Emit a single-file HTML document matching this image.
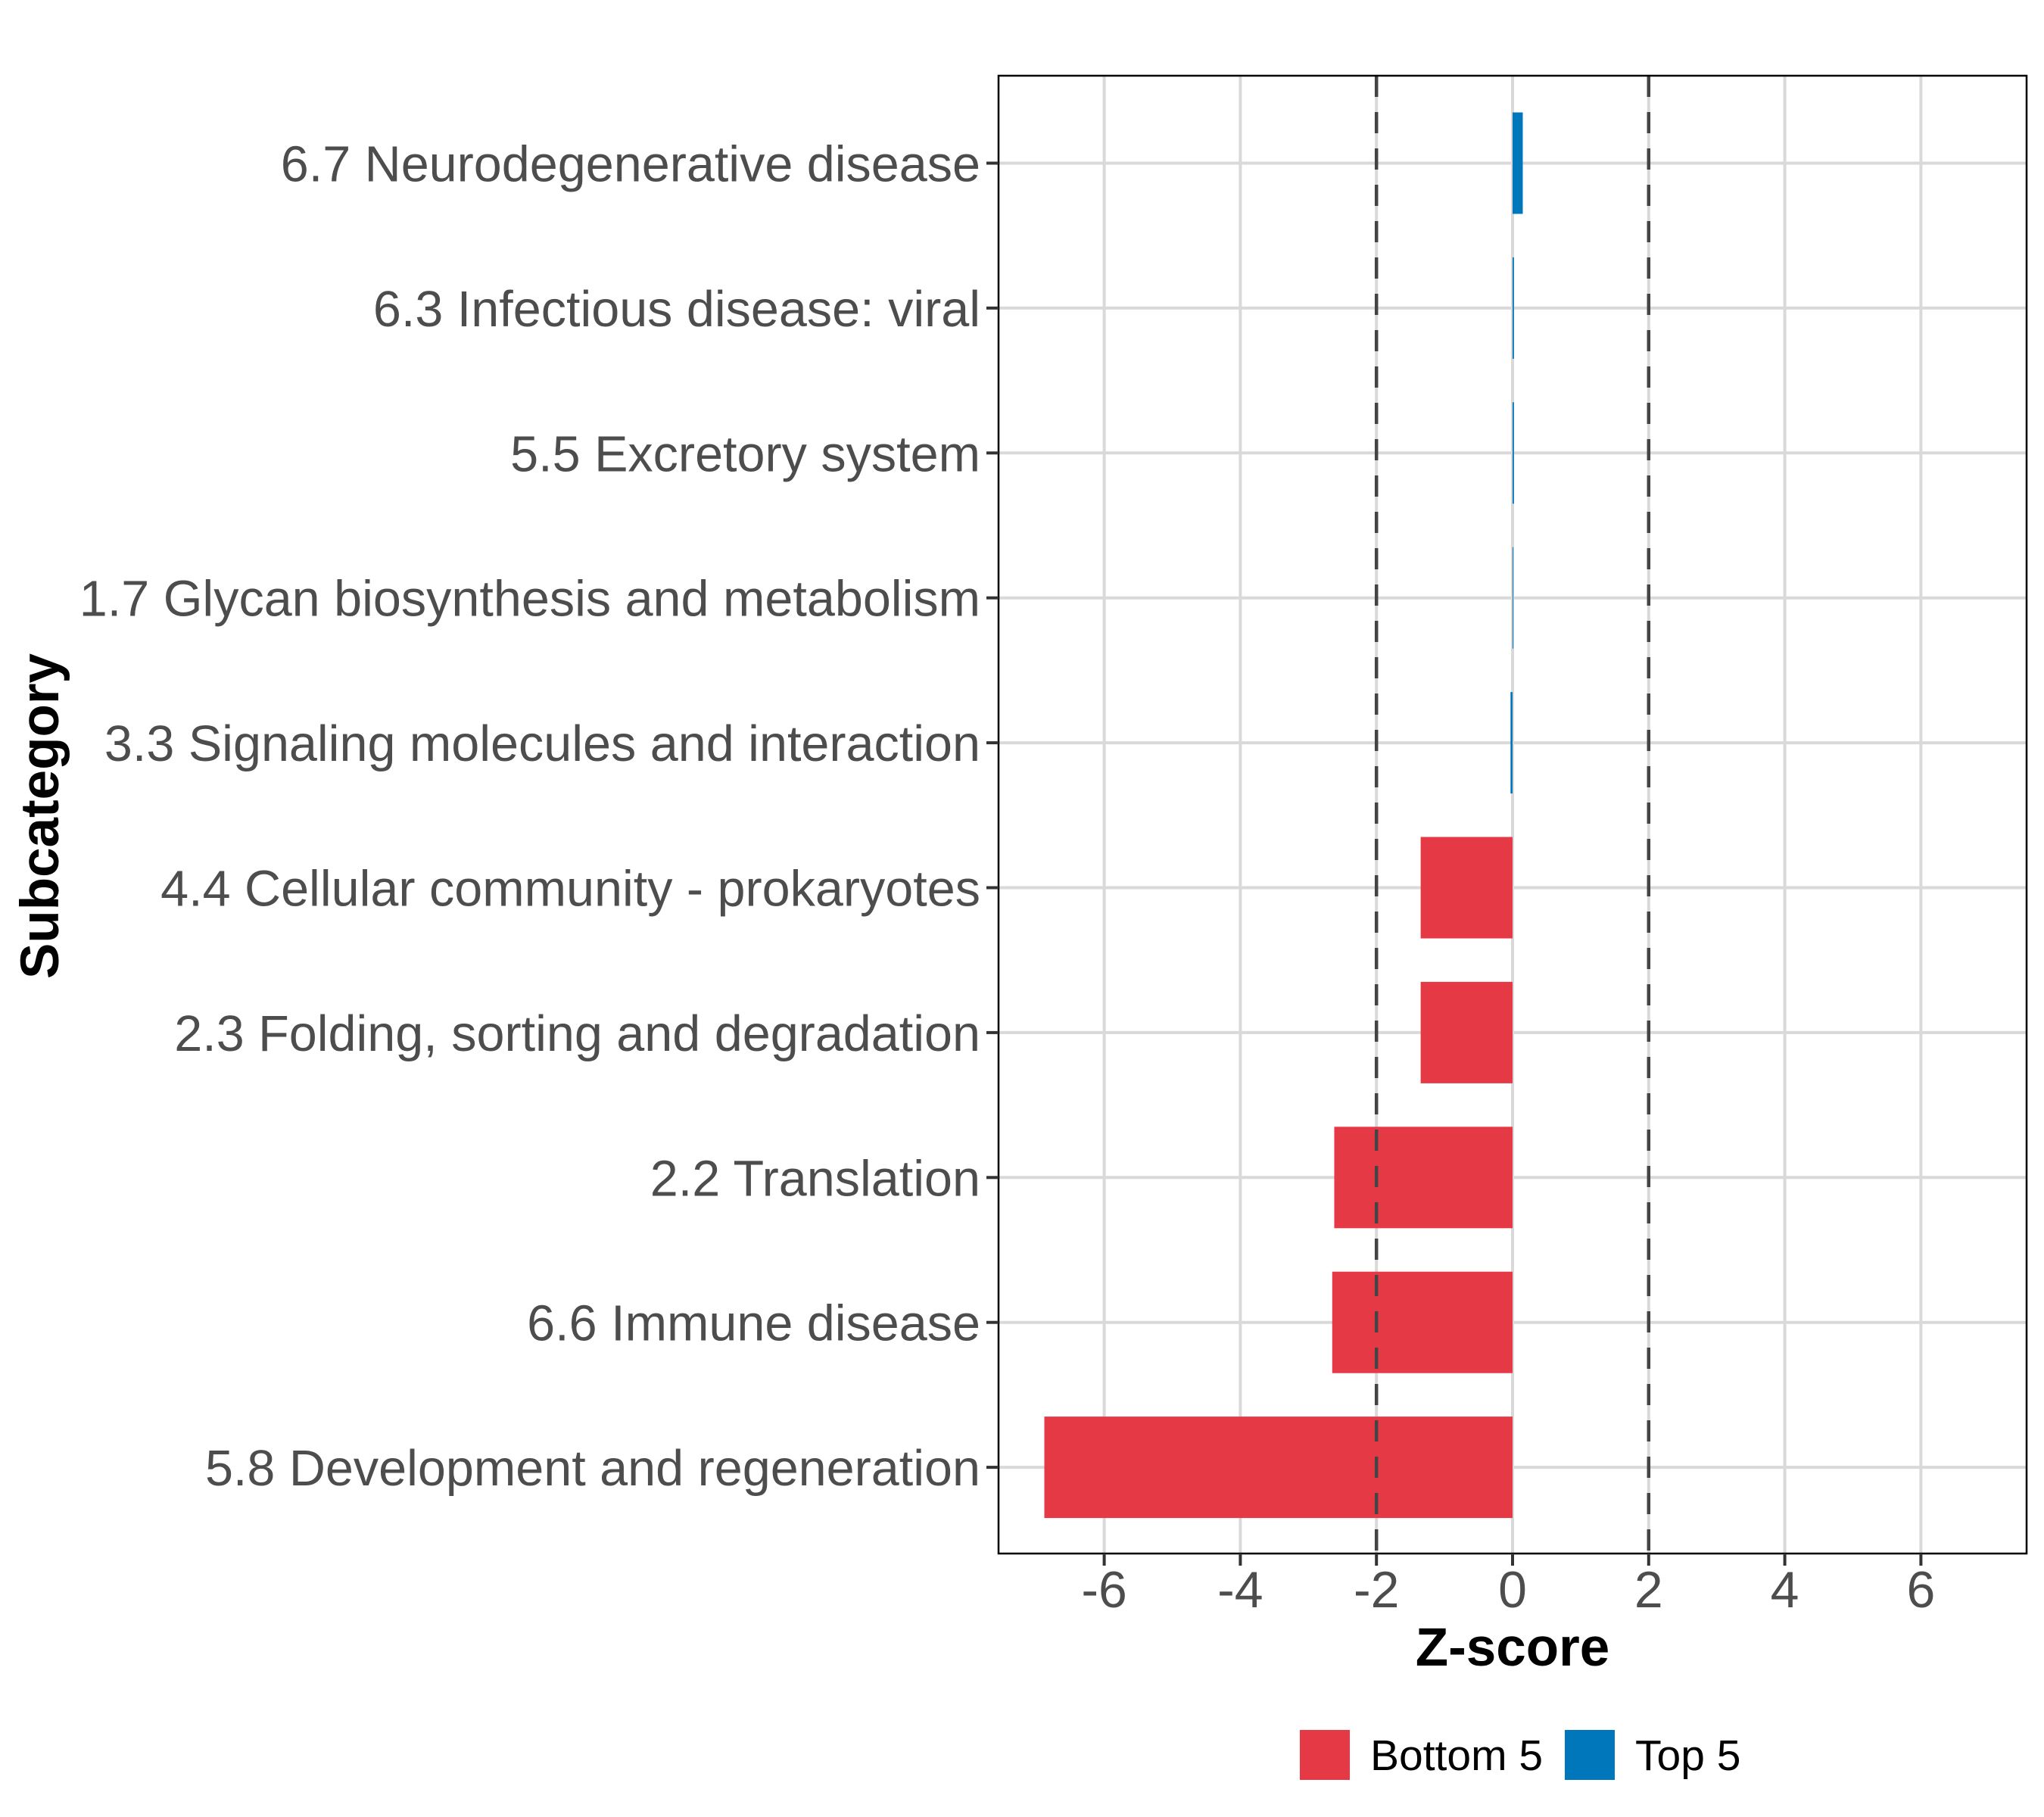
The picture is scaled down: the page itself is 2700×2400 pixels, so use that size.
<!DOCTYPE html>
<html><head><meta charset="utf-8"><style>
html,body{margin:0;padding:0;background:#fff}
svg{display:block}
text{font-family:"Liberation Sans",Arial,sans-serif}
</style></head><body>
<svg id="chart" width="2700" height="2400" viewBox="0 0 2700 2400" xmlns="http://www.w3.org/2000/svg">
<g id="grid"></g>
<g id="bars"></g>
<g id="refs"></g>
<rect x="1319" y="100" width="1358" height="1952" fill="none" stroke="#000" stroke-width="2.5"/>
<g id="yaxis"></g>
<g id="xaxis"></g>
<text x="1998" y="2200" font-size="71" font-weight="bold" text-anchor="middle" fill="#000">Z-score</text>
<text transform="translate(77,1078) rotate(-90)" font-size="71" font-weight="bold" text-anchor="middle" fill="#000">Subcategory</text>
<g>
<rect x="1717" y="2285" width="66" height="66" fill="#E63946"/>
<text x="1810" y="2338" font-size="57" fill="#000">Bottom 5</text>
<rect x="2067" y="2285" width="66" height="66" fill="#0077BB"/>
<text x="2160" y="2338" font-size="57" fill="#000">Top 5</text>
</g>
</svg>
<script>
const categories = ["6.7 Neurodegenerative disease","6.3 Infectious disease: viral","5.5 Excretory system","1.7 Glycan biosynthesis and metabolism","3.3 Signaling molecules and interaction","4.4 Cellular community - prokaryotes","2.3 Folding, sorting and degradation","2.2 Translation","6.6 Immune disease","5.8 Development and regeneration"];
const zscores = [0.15, 0.02, 0.02, 0.005, -0.03, -1.35, -1.35, -2.62, -2.65, -6.88];
const groups = ["Top 5","Top 5","Top 5","Top 5","Top 5","Bottom 5","Bottom 5","Bottom 5","Bottom 5","Bottom 5"];
const xTicks = [-6, -4, -2, 0, 2, 4, 6];
const refLines = [-2, 2];

const NS = "http://www.w3.org/2000/svg";
const PL = 1319, PR = 2677, PT = 100, PB = 2052;
const X0 = 1998, XU = 89.9;
const xs = v => X0 + v * XU;
const Y0 = 215.5, YS = 191.4;
const ys = i => Y0 + i * YS;
const colors = {"Top 5": "#0077BB", "Bottom 5": "#E63946"};
function mk(tag, attrs, parent) {
  const e = document.createElementNS(NS, tag);
  for (const k in attrs) e.setAttribute(k, attrs[k]);
  parent.appendChild(e);
  return e;
}
const grid = document.getElementById('grid');
const bars = document.getElementById('bars');
const refs = document.getElementById('refs');
const yaxis = document.getElementById('yaxis');
const xaxis = document.getElementById('xaxis');
xTicks.forEach(t => {
  const l = mk('line', {x1: xs(t), x2: xs(t), y1: PT, y2: PB, stroke: '#d9d9d9', 'stroke-width': 4}, grid);
  
  
  const tk = mk('line', {x1: xs(t), x2: xs(t), y1: PB, y2: PB + 16, stroke: '#333', 'stroke-width': 4}, xaxis);
  
  
  const tx = mk('text', {x: xs(t), y: 2123, 'font-size': 68, 'text-anchor': 'middle', fill: '#4d4d4d'}, xaxis);
  tx.textContent = String(t);
  
  
});
categories.forEach((c, i) => {
  const y = ys(i);
  const l = mk('line', {x1: PL, x2: PR, y1: y, y2: y, stroke: '#d9d9d9', 'stroke-width': 4}, grid);
  
  
  const v = zscores[i];
  const bh = 134;
  const r = mk('rect', {x: Math.min(xs(0), xs(v)), y: y - bh / 2, width: Math.max(1, Math.abs(xs(v) - xs(0))), height: bh, fill: colors[groups[i]]}, bars);
  
  
  const tk = mk('line', {x1: PL - 16, x2: PL, y1: y, y2: y, stroke: '#333', 'stroke-width': 4}, yaxis);
  
  
  const tx = mk('text', {x: PL - 24, y: y + 24, 'font-size': 66.5, 'text-anchor': 'end', fill: '#4d4d4d'}, yaxis);
  tx.textContent = c;
  
  
});
refLines.forEach(v => {
  const l = mk('line', {x1: xs(v), x2: xs(v), y1: PT, y2: PB, stroke: '#444', 'stroke-width': 4.5, 'stroke-dasharray': '28 20'}, refs);
  
  
});
</script>
</body></html>
